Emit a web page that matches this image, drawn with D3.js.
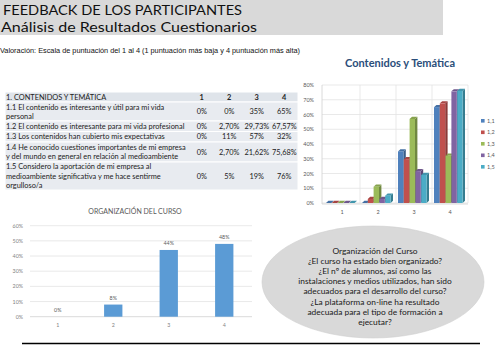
<!DOCTYPE html>
<html><head><meta charset="utf-8">
<script src="https://cdn.jsdelivr.net/npm/d3@7"></script>
<style>
html,body{margin:0;padding:0;background:#fff;}
svg{display:block;}
</style></head>
<body>
<svg id="c" width="500" height="346"></svg>
<script>
// ---------- DATA ----------
const titleLines = ["FEEDBACK DE LOS PARTICIPANTES", "Análisis de Resultados Cuestionarios"];
const subtitle = "Valoración: Escala de puntuación del 1 al 4 (1 puntuación más baja y 4 puntuación más alta)";
const categories = ["1", "2", "3", "4"];
const tableHeader = "1. CONTENIDOS Y TEMÁTICA";
const questionLines = [
  ["1.1 El contenido es interesante y útil para mi vida", "personal"],
  ["1.2 El contenido es interesante para mi vida profesional"],
  ["1.3 Los contenidos han cubierto mis expectativas"],
  ["1.4 He conocido cuestiones importantes de mi empresa", "y del mundo en general en relación al medioambiente"],
  ["1.5 Considero la aportación de mi empresa al", "medioambiente significativa y me hace sentirme", "orgulloso/a"]
];
const seriesNames = ["1,1", "1,2", "1,3", "1,4", "1,5"];
const s11 = [0, 0, 35, 65];
const s12 = [0, 2.7, 29.73, 67.57];
const s13 = [0, 11, 57, 32];
const s14 = [0, 2.7, 21.62, 75.68];
const s15 = [0, 5, 19, 76];
const seriesValues = [s11, s12, s13, s14, s15];
const seriesColors = ["#4f81bd", "#c0504d", "#9bbb59", "#8064a2", "#4bacc6"];
const chart1Title = "Contenidos y Temática";
const chart1Ticks = [0, 10, 20, 30, 40, 50, 60, 70, 80];
const chart2Title = "ORGANIZACIÓN DEL CURSO";
const orgValues = [0, 8, 44, 48];
const chart2Ticks = [0, 10, 20, 30, 40, 50, 60];
const ellipseLines = [
  "Organización del Curso",
  "¿El curso ha estado bien organizado?",
  "¿El nº de alumnos, así como  las",
  "instalaciones y medios utilizados, han sido",
  "adecuados para el desarrollo del curso?",
  "¿La plataforma on-line ha resultado",
  "adecuada para el tipo de formación a",
  "ejecutar?"
];

// ---------- DRAW ----------
const svg = d3.select("#c");
const calibri = "Lato, 'Open Sans', sans-serif";
const arial = "'Liberation Sans', Arial, sans-serif";

// header band
svg.append("rect").attr("x", 0).attr("y", 0).attr("width", 443).attr("height", 35).attr("fill", "#d9d9d9");
svg.append("text").attr("x", 3).attr("y", 14.5).attr("font-family", calibri).attr("font-size", 14)
  .attr("fill", "#111").attr("textLength", 239).attr("lengthAdjust", "spacingAndGlyphs").text(titleLines[0]);
svg.append("text").attr("x", 1).attr("y", 31.5).attr("font-family", calibri).attr("font-size", 14)
  .attr("fill", "#111").attr("textLength", 256).attr("lengthAdjust", "spacingAndGlyphs").text(titleLines[1]);
svg.append("text").attr("x", 0).attr("y", 52.5).attr("font-family", arial).attr("font-size", 6.6)
  .attr("fill", "#111").attr("textLength", 300).attr("lengthAdjust", "spacingAndGlyphs").text(subtitle);

// ---------- TABLE ----------
const fmtCell = v => (Number.isInteger(v) ? v : v.toFixed(2).replace(".", ",")) + "%";
const rowBounds = [92, 102, 121, 131.5, 142, 162, 190];
const tableX0 = 5, tableX1 = 298;
const colX = d3.scaleBand().domain(categories).range([188, 298]);
const tbl = svg.append("g");
rowBounds.slice(0, -1).forEach((y0, i) => {
  tbl.append("rect").attr("x", tableX0).attr("y", y0).attr("width", tableX1 - tableX0)
    .attr("height", rowBounds[i + 1] - y0).attr("fill", i === 0 ? "#dfe4ea" : "#e8ebf0")
    .attr("stroke", "#fff").attr("stroke-width", 1);
});
const lh = 9.2;
const tfs = 7.4;
tbl.append("text").attr("x", 6).attr("y", 99.5).attr("font-family", calibri).attr("font-size", tfs)
  .attr("fill", "#222").text(tableHeader);
tbl.selectAll("text.hc").data(categories).join("text").attr("class", "hc")
  .attr("x", d => colX(d) + colX.bandwidth() / 2).attr("y", 99.5).attr("text-anchor", "middle")
  .attr("font-family", calibri).attr("font-size", tfs).attr("font-weight", "bold").attr("fill", "#222").text(d => d);
questionLines.forEach((lines, r) => {
  const y0 = rowBounds[r + 1], y1 = rowBounds[r + 2];
  const mid = (y0 + y1) / 2;
  const top = mid - (lines.length - 1) * lh / 2;
  lines.forEach((t, k) => {
    tbl.append("text").attr("x", 6).attr("y", top + k * lh + 2.6).attr("font-family", calibri)
      .attr("font-size", tfs).attr("fill", "#222").text(t);
  });
  seriesValues[r].forEach((v, c) => {
    tbl.append("text").attr("x", colX(categories[c]) + colX.bandwidth() / 2).attr("y", mid + 2.6)
      .attr("text-anchor", "middle").attr("font-family", calibri).attr("font-size", tfs)
      .attr("fill", "#222").text(fmtCell(v));
  });
});

// ---------- 3D CLUSTERED CHART ----------
const c1 = svg.append("g");
const x1 = d3.scaleBand().domain(categories).range([324, 468]);
const xs = d3.scaleBand().domain(seriesNames).range([2, 31]);
const y1 = d3.scaleLinear().domain([0, 80]).range([203, 85]);
c1.append("text").attr("x", 400).attr("y", 67).attr("text-anchor", "middle").attr("font-family", calibri)
  .attr("font-size", 11).attr("font-weight", "bold").attr("fill", "#2b4e7a").text(chart1Title);
c1.selectAll("line.hg").data(chart1Ticks).join("line").attr("class", "hg")
  .attr("x1", 322).attr("x2", 468).attr("y1", d => y1(d)).attr("y2", d => y1(d))
  .attr("stroke", "#e3e3e3").attr("stroke-width", 0.8);
c1.selectAll("line.vg").data(categories.slice(1).concat(["end"])).join("line").attr("class", "vg")
  .attr("x1", d => d === "end" ? 468 : x1(d)).attr("x2", d => d === "end" ? 468 : x1(d))
  .attr("y1", y1(80)).attr("y2", y1(0)).attr("stroke", "#e3e3e3").attr("stroke-width", 0.8);
c1.append("line").attr("x1", 322).attr("x2", 322).attr("y1", y1(80)).attr("y2", y1(0) + 1)
  .attr("stroke", "#d0d0d0").attr("stroke-width", 0.8);
c1.append("line").attr("x1", 322).attr("x2", 468).attr("y1", y1(0) + 1).attr("y2", y1(0) + 1)
  .attr("stroke", "#cfcfcf").attr("stroke-width", 0.8);
c1.selectAll("text.yt").data(chart1Ticks).join("text").attr("class", "yt")
  .attr("x", 314).attr("y", d => y1(d) + 2).attr("text-anchor", "end").attr("font-family", calibri)
  .attr("font-size", 5.5).attr("fill", "#595959").text(d => d + "%");
c1.selectAll("text.xt").data(categories).join("text").attr("class", "xt")
  .attr("x", d => x1(d) + x1.bandwidth() / 2).attr("y", 214).attr("text-anchor", "middle")
  .attr("font-family", calibri).attr("font-size", 5.5).attr("fill", "#595959").text(d => d);
const dx = 2.4, dy = 2.2;
const fw = xs.bandwidth() - 0.4;
const shade = (c, k) => d3.color(c).darker(k).formatHex();
categories.forEach((cat, ci) => {
  seriesNames.forEach((sn, si) => {
    const v = seriesValues[si][ci];
    const x0 = x1(cat) + xs(sn);
    const yv = y1(v), yb = y1(0);
    const col = seriesColors[si];
    const g = c1.append("g");
    g.append("polygon").attr("points", [[x0 + fw, yv], [x0 + fw + dx, yv - dy], [x0 + fw + dx, yb - dy], [x0 + fw, yb]].map(p => p.join(",")).join(" "))
      .attr("fill", shade(col, 0.9));
    g.append("polygon").attr("points", [[x0, yv], [x0 + dx, yv - dy], [x0 + fw + dx, yv - dy], [x0 + fw, yv]].map(p => p.join(",")).join(" "))
      .attr("fill", shade(col, 0.4));
    g.append("rect").attr("x", x0).attr("y", yv).attr("width", fw).attr("height", Math.max(0, yb - yv))
      .attr("fill", col);
  });
});
const leg = c1.append("g");
seriesNames.forEach((sn, i) => {
  const yy = 122.5 + i * 11.5;
  leg.append("rect").attr("x", 481).attr("y", yy - 3.5).attr("width", 3.6).attr("height", 3.6).attr("fill", seriesColors[i]);
  leg.append("text").attr("x", 487).attr("y", yy).attr("font-family", calibri).attr("font-size", 5.5)
    .attr("fill", "#595959").text(sn);
});

// ---------- ORGANIZACIÓN CHART ----------
const c2 = svg.append("g");
const x2 = d3.scaleBand().domain(categories).range([30, 252]).paddingInner(0.67).paddingOuter(0.335);
const y2 = d3.scaleLinear().domain([0, 60]).range([316.7, 225.7]);
c2.append("text").attr("x", 135).attr("y", 214).attr("text-anchor", "middle").attr("font-family", calibri)
  .attr("font-size", 7).attr("fill", "#595959").text(chart2Title);
c2.selectAll("line.g").data(chart2Ticks).join("line").attr("class", "g")
  .attr("x1", 30).attr("x2", 252).attr("y1", d => y2(d)).attr("y2", d => y2(d))
  .attr("stroke", d => d === 0 ? "#cfcfcf" : "#e3e3e3").attr("stroke-width", 0.8);
c2.selectAll("text.yt").data(chart2Ticks).join("text").attr("class", "yt")
  .attr("x", 23).attr("y", d => y2(d) + 2).attr("text-anchor", "end").attr("font-family", calibri)
  .attr("font-size", 5.3).attr("fill", "#7f7f7f").text(d => d + "%");
c2.selectAll("rect.b").data(orgValues).join("rect").attr("class", "b")
  .attr("x", (d, i) => x2(categories[i])).attr("y", d => y2(d)).attr("width", x2.bandwidth())
  .attr("height", d => y2(0) - y2(d)).attr("fill", "#5b9bd5");
c2.selectAll("text.dl").data(orgValues).join("text").attr("class", "dl")
  .attr("x", (d, i) => x2(categories[i]) + x2.bandwidth() / 2).attr("y", d => y2(d) - 4.5)
  .attr("text-anchor", "middle").attr("font-family", calibri).attr("font-size", 5.3).attr("fill", "#595959")
  .text(d => d + "%");
c2.selectAll("text.xt").data(categories).join("text").attr("class", "xt")
  .attr("x", d => x2(d) + x2.bandwidth() / 2).attr("y", 327).attr("text-anchor", "middle")
  .attr("font-family", calibri).attr("font-size", 5.3).attr("fill", "#7f7f7f").text(d => d);

// ---------- ELLIPSE ----------
svg.append("ellipse").attr("cx", 373).attr("cy", 282).attr("rx", 111).attr("ry", 56)
  .attr("fill", "#d9d9d9").attr("stroke", "#cfcfcf").attr("stroke-width", 0.6);
svg.selectAll("text.el").data(ellipseLines).join("text").attr("class", "el")
  .attr("x", 375).attr("y", (d, i) => 253.5 + i * 10.2).attr("text-anchor", "middle")
  .attr("font-family", calibri).attr("font-size", 8.4).attr("fill", "#1a1a1a").text(d => d);

// bottom rule
svg.append("line").attr("x1", 22).attr("x2", 480).attr("y1", 343.5).attr("y2", 343.5)
  .attr("stroke", "#000").attr("stroke-width", 1.6);
</script>
</body></html>
